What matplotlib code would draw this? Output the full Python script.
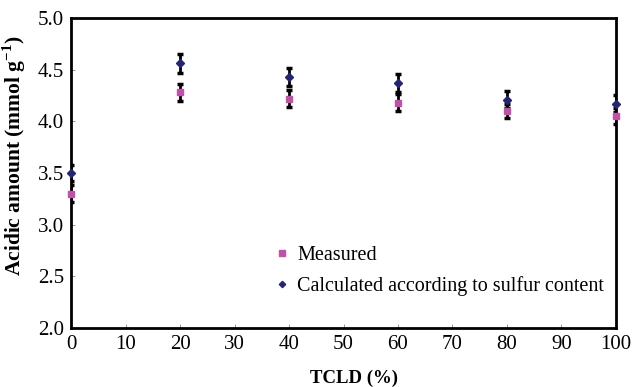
import matplotlib
matplotlib.use("Agg")
import matplotlib.pyplot as plt

tcld = [0, 20, 40, 60, 80, 100]
measured = [3.30, 4.28, 4.22, 4.18, 4.10, 4.05]
measured_err = [0.08, 0.08, 0.08, 0.08, 0.07, 0.08]
calculated = [3.50, 4.56, 4.43, 4.37, 4.21, 4.17]
calculated_err = [0.08, 0.09, 0.09, 0.09, 0.08, 0.08]
xticks = [0, 10, 20, 30, 40, 50, 60, 70, 80, 90, 100]
yticks = [2.0, 2.5, 3.0, 3.5, 4.0, 4.5, 5.0]

plt.rcParams['font.family'] = ['Liberation Serif', 'DejaVu Serif']
plt.rcParams['mathtext.fontset'] = 'custom'
plt.rcParams['mathtext.rm'] = 'Liberation Serif'
plt.rcParams['mathtext.bf'] = 'Liberation Serif:bold'

fig = plt.figure(figsize=(6.37, 3.87), dpi=100)
ax = fig.add_axes([0.1115, 0.1525, 0.8555, 0.801])

ax.errorbar(tcld, calculated, yerr=calculated_err, fmt='none', ecolor='black',
            elinewidth=2, capsize=2.5, capthick=2.5, zorder=2)
ax.errorbar(tcld, measured, yerr=measured_err, fmt='none', ecolor='black',
            elinewidth=2, capsize=2.5, capthick=2.5, zorder=2)
ax.plot(tcld, measured, linestyle='none', marker='s', markersize=5,
        color='#C050A8', markeredgecolor='#C050A8', label='Measured', zorder=3, clip_on=False)
ax.plot(tcld, calculated, linestyle='none', marker='D', markersize=4,
        color='#252578', markeredgecolor='#252578',
        label='Calculated according to sulfur content', zorder=3, clip_on=False)

ax.set_xlim(0, 100)
ax.set_ylim(2.0, 5.0)
ax.set_xticks(xticks)
ax.set_xticklabels([str(v) for v in xticks])
ax.set_yticks(yticks)
ax.set_yticklabels([f"{v:.1f}" for v in yticks])
ax.tick_params(direction='in', length=3, width=0.6, color='#888888', labelsize=15, pad=5)
for s in ax.spines.values():
    s.set_linewidth(2)
    s.set_color('black')

ax.set_xlabel('TCLD (%)', fontsize=13.5, fontweight='bold')
ax.xaxis.set_label_coords(0.519, -0.135)
ax.set_ylabel(r'Acidic amount (mmol g$^{\mathbf{-1}}$)', fontsize=15.5, fontweight='bold')
ax.yaxis.set_label_coords(-0.079, 0.555)

leg = ax.legend(loc='upper left', bbox_to_anchor=(0.363, 0.29), frameon=False,
                fontsize=14.5, handlelength=0.5, handletextpad=0.5, labelspacing=0.55,
                markerscale=0.8, borderaxespad=0)

fig.savefig('out.png', dpi=100)
